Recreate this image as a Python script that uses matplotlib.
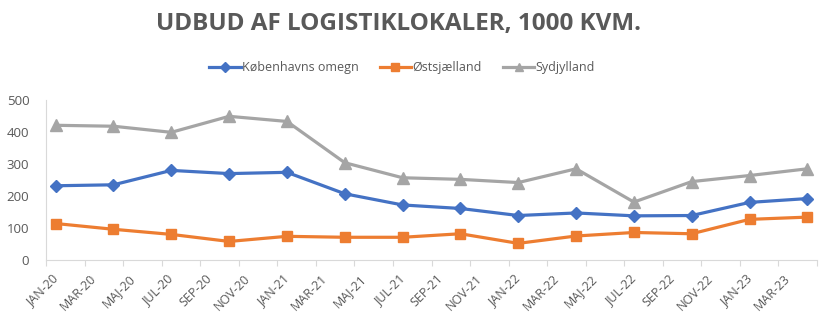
import matplotlib
matplotlib.use("Agg")
import matplotlib.pyplot as plt
import numpy as np

plt.rcParams['font.family'] = ['Open Sans', 'DejaVu Sans']

# Data (quarterly observations, 1000 m2)
dates = ["2020-01", "2020-04", "2020-07", "2020-10", "2021-01", "2021-04", "2021-07",
         "2021-10", "2022-01", "2022-04", "2022-07", "2022-10", "2023-01", "2023-04"]
kobenhavn = [232, 235, 280, 270, 274, 207, 172, 161, 139, 147, 138, 139, 180, 192]
ostsjaelland = [114, 96, 80, 58, 74, 71, 71, 82, 52, 75, 86, 82, 127, 134]
sydjylland = [421, 418, 399, 449, 433, 304, 257, 252, 242, 285, 181, 245, 264, 285]
tick_labels = ["JAN-20", "MAR-20", "MAJ-20", "JUL-20", "SEP-20", "NOV-20",
               "JAN-21", "MAR-21", "MAJ-21", "JUL-21", "SEP-21", "NOV-21",
               "JAN-22", "MAR-22", "MAJ-22", "JUL-22", "SEP-22", "NOV-22",
               "JAN-23", "MAR-23"]
series_names = ["Københavns omegn", "Østsjælland", "Sydjylland"]

def month_index(s):
    y, m = s.split("-")
    return (int(y) - 2020) * 12 + int(m) - 1

x = np.array([month_index(d) for d in dates]) + 0.5

fig = plt.figure(figsize=(8.34, 3.27), dpi=100)
ax = fig.add_axes([46/834, 1 - 260/327, (817 - 46)/834, (260 - 100)/327])

txt = "#595959"
ax.plot(x, kobenhavn, color="#4472C4", lw=2.3, marker="D", ms=6.5, label=series_names[0])
ax.plot(x, ostsjaelland, color="#ED7D31", lw=2.3, marker="s", ms=7, label=series_names[1])
ax.plot(x, sydjylland, color="#A5A5A5", lw=2.3, marker="^", ms=8, label=series_names[2])

ax.set_xlim(0, 40)
ax.set_ylim(0, 500)
ax.set_yticks([0, 100, 200, 300, 400, 500])
ax.tick_params(axis="y", length=0, pad=12, labelsize=9.5, labelcolor=txt)

ax.set_xticks(np.arange(0, 41, 2))
ax.set_xticklabels([])
ax.set_xticks(np.arange(0, 40, 2) + 0.5, minor=True)
ax.set_xticklabels(tick_labels, minor=True, rotation=45, ha="right", va="center",
                   rotation_mode="anchor", fontsize=9, color=txt)
ax.tick_params(axis="x", which="major", length=4, color="#D9D9D9", direction="out")
ax.tick_params(axis="x", which="minor", length=0, pad=12)

for s in ["top", "right"]:
    ax.spines[s].set_visible(False)
ax.spines["left"].set_color("#D9D9D9")
ax.spines["bottom"].set_color("#D9D9D9")

fig.text(398/834, 1 - 24/327, "UDBUD AF LOGISTIKLOKALER, 1000 KVM.", ha="center", va="center",
         fontsize=17.5, fontweight="bold", color=txt)

leg = fig.legend(loc="center", bbox_to_anchor=(402/834, 1 - 68/327), ncol=3, frameon=False,
                 fontsize=9, labelcolor=txt, handlelength=2.5, columnspacing=1.7,
                 handletextpad=0.1, markerscale=0.75)

fig.savefig("out.png", dpi=100)
